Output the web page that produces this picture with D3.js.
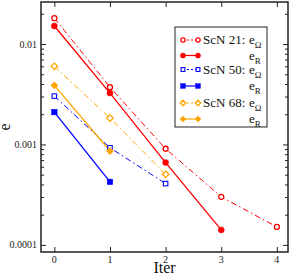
<!DOCTYPE html>
<html>
<head>
<meta charset="utf-8">
<script src="https://cdn.jsdelivr.net/npm/d3@7"></script>
<style>
  body { margin: 0; background: #fff; }
  text { font-family: "Liberation Serif", "DejaVu Serif", serif; }
</style>
</head>
<body>
<div id="chart"></div>
<script>
// iterations
var iters = [0, 1, 2, 3, 4];
var xTicks = [0, 1, 2, 3, 4];
var yTicks = [0.0001, 0.001, 0.01];
var yTickLabels = ["0.0001", "0.001", "0.01"];

// series values (error per iteration)
var scn21_eO = [0.0181, 0.00372, 0.000906, 0.000301, 0.000151];
var scn21_eR = [0.0151, 0.00325, 0.00066, 0.000141];
var scn50_eO = [0.00303, 0.000927, 0.000408];
var scn50_eR = [0.00210, 0.000424];
var scn68_eO = [0.0060, 0.00183, 0.000505];
var scn68_eR = [0.00387, 0.00086];

var series = [
  {name: "ScN 21: ", sub: "Ω", vals: scn21_eO, color: "#ff0000", shape: "circle", open: true},
  {name: "", sub: "R", vals: scn21_eR, color: "#ff0000", shape: "circle", open: false},
  {name: "ScN 50: ", sub: "Ω", vals: scn50_eO, color: "#0000ff", shape: "square", open: true},
  {name: "", sub: "R", vals: scn50_eR, color: "#0000ff", shape: "square", open: false},
  {name: "ScN 68: ", sub: "Ω", vals: scn68_eO, color: "#ffa500", shape: "diamond", open: true},
  {name: "", sub: "R", vals: scn68_eR, color: "#ffa500", shape: "diamond", open: false}
];

var W = 293, H = 280;
var m = {left: 41, right: 5, top: 2, bottom: 28};

var x = d3.scaleLinear().domain([-0.24, 4.2]).range([m.left, W - m.right]);
var y = d3.scaleLog().domain([8.5e-5, 0.0262]).range([H - m.bottom, m.top]);

var svg = d3.select('#chart').append('svg').attr('width', W).attr('height', H);

var minors = [];
[1e-4, 1e-3, 1e-2].forEach(function(dec) {
  for (var k = 2; k <= 9; k++) {
    var v = dec * k;
    if (v < y.domain()[1]) minors.push(v);
  }
});

function addAxes() {
  var x0 = m.left, x1 = W - m.right, y0 = H - m.bottom, y1 = m.top;
  var g = svg.append('g').attr('class', 'axes');
  // inward ticks on all sides
  g.append('g').attr('transform', 'translate(0,' + y0 + ')')
    .call(d3.axisTop(x).tickValues(xTicks).tickSize(5).tickFormat(''));
  g.append('g').attr('transform', 'translate(0,' + y1 + ')')
    .call(d3.axisBottom(x).tickValues(xTicks).tickSize(5).tickFormat(''));
  g.append('g').attr('transform', 'translate(' + x0 + ',0)')
    .call(d3.axisRight(y).tickValues(yTicks).tickSize(5).tickFormat(''));
  g.append('g').attr('transform', 'translate(' + x0 + ',0)')
    .call(d3.axisRight(y).tickValues(minors).tickSize(3).tickFormat(''));
  g.append('g').attr('transform', 'translate(' + x1 + ',0)')
    .call(d3.axisLeft(y).tickValues(yTicks).tickSize(5).tickFormat(''));
  g.append('g').attr('transform', 'translate(' + x1 + ',0)')
    .call(d3.axisLeft(y).tickValues(minors).tickSize(3).tickFormat(''));
  g.selectAll('.domain').remove();
  g.selectAll('.tick line').attr('stroke', '#222').attr('stroke-width', 1);

  // frame
  svg.append('rect').attr('x', x0).attr('y', y1).attr('width', x1 - x0).attr('height', y0 - y1)
    .attr('fill', 'none').attr('stroke', '#222').attr('stroke-width', 1.5);

  // tick labels
  svg.selectAll('.xl').data(xTicks).enter().append('text')
    .attr('x', function(d) { return x(d); }).attr('y', y0 + 11)
    .attr('text-anchor', 'middle').style('font-size', '10px').style('fill', '#222')
    .text(function(d) { return d; });
  svg.selectAll('.yl').data(yTicks).enter().append('text')
    .attr('x', x0 - 4).attr('y', function(d) { return y(d) + 3.5; })
    .attr('text-anchor', 'end').style('font-size', '10px').style('fill', '#222')
    .text(function(d, i) { return yTickLabels[i]; });

  // axis titles
  svg.append('text').attr('x', (x0 + x1) / 2).attr('y', 273).attr('text-anchor', 'middle')
    .style('font-size', '16px').style('fill', '#111').text('Iter');
  svg.append('text').attr('transform', 'translate(10,127) rotate(-90)').attr('text-anchor', 'middle')
    .style('font-size', '16px').style('fill', '#111').text('e');
}

function marker(sel, s, cx, cy, k) {
  k = k || 1;
  var fill = s.open ? '#fff' : s.color;
  if (s.shape === 'circle') {
    sel.append('circle').attr('cx', cx).attr('cy', cy).attr('r', (s.open ? 2.5 : 3) * k)
      .attr('fill', fill).attr('stroke', s.color).attr('stroke-width', s.open ? 1.3 : 0.5);
  } else if (s.shape === 'square') {
    var a = (s.open ? 4.5 : 5.5) * k;
    sel.append('rect').attr('x', cx - a / 2).attr('y', cy - a / 2).attr('width', a).attr('height', a)
      .attr('fill', fill).attr('stroke', s.color).attr('stroke-width', s.open ? 1.1 : 0.5);
  } else {
    var r = (s.open ? 3.2 : 3.6) * k;
    sel.append('path').attr('d', 'M' + cx + ',' + (cy - r) + 'L' + (cx + r) + ',' + cy + 'L' + cx + ',' + (cy + r) + 'L' + (cx - r) + ',' + cy + 'Z')
      .attr('fill', fill).attr('stroke', s.color).attr('stroke-width', s.open ? 1.3 : 0.5);
  }
}

addAxes();

var line = d3.line().x(function(d, i) { return x(iters[i]); }).y(function(d) { return y(d); });

var plot = svg.append('g');
series.forEach(function(s) {
  plot.append('path').datum(s.vals).attr('d', line).attr('fill', 'none')
    .attr('stroke', s.color).attr('stroke-width', s.open ? 1 : 1.3)
    .attr('stroke-dasharray', s.open ? '6,3,1.5,3' : null);
});
series.forEach(function(s) {
  var g = plot.append('g');
  s.vals.forEach(function(v, i) { marker(g, s, x(iters[i]), y(v)); });
});

// legend
var lg = svg.append('g');
lg.append('rect').attr('x', 175).attr('y', 27).attr('width', 92).attr('height', 100)
  .attr('fill', '#fff').attr('stroke', '#222').attr('stroke-width', 1);
var rowY = [40, 55.5, 69.5, 86, 103, 119];
series.forEach(function(s, i) {
  var ry = rowY[i];
  lg.append('line').attr('x1', 183).attr('x2', 198).attr('y1', ry).attr('y2', ry)
    .attr('stroke', s.color).attr('stroke-width', 1.2)
    .attr('stroke-dasharray', s.open ? '2,2' : null);
  marker(lg, s, 183, ry, 0.85);
  marker(lg, s, 198, ry, 0.85);
  if (s.name) {
    lg.append('text').attr('x', 203).attr('y', ry + 4).style('font-size', '13px').style('fill', '#111').text(s.name);
  }
  var t = lg.append('text').attr('x', 249).attr('y', ry + 4).style('font-size', '13px').style('fill', '#111').text('e');
  t.append('tspan').attr('dy', 4).style('font-size', '9px').text(s.sub);
});
</script>
</body>
</html>
